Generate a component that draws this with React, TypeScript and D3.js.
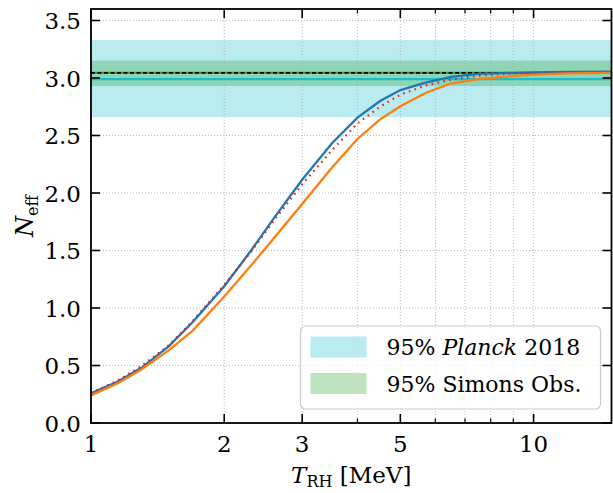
import React from 'react';
import * as d3 from 'd3';

// temperature grid (MeV)
const tRH = [1, 1.15, 1.3, 1.5, 1.7, 2, 2.3, 2.6, 3, 3.5, 4, 4.5, 5, 5.7, 6.5, 7.5, 8.5, 10, 12, 15];
// N_eff curves
const nBlue = [0.258, 0.36, 0.48, 0.668, 0.88, 1.19, 1.5, 1.79, 2.115, 2.43, 2.655, 2.8, 2.895, 2.96, 3.01, 3.035, 3.042, 3.048, 3.052, 3.055];
const nOrange = [0.24, 0.345, 0.465, 0.633, 0.806, 1.1, 1.37, 1.615, 1.905, 2.22, 2.47, 2.64, 2.755, 2.87, 2.952, 2.99, 3.01, 3.03, 3.04, 3.045];
const nRed = [0.26, 0.37, 0.495, 0.675, 0.89, 1.2, 1.49, 1.77, 2.075, 2.37, 2.605, 2.75, 2.855, 2.935, 2.985, 3.02, 3.035, 3.045, 3.05, 3.05];

// bands and reference lines
const planckBand = [2.66, 3.33];
const planckCentral = 2.99;
const simonsBand = [2.93, 3.15];
const smValue = 3.045;

const xMajor = [1, 2, 3, 5, 10];
const xMinor = [4, 6, 7, 8, 9];
const xGrid = [1, 2, 3, 4, 5, 6, 7, 8, 9, 10];
const yTicks = [0, 0.5, 1.0, 1.5, 2.0, 2.5, 3.0, 3.5];

const font = "'DejaVu Serif', 'Liberation Serif', serif";

export default function App() {
  // set the dimensions and margins of the graph
  const margin = { top: 9, right: 1.5, bottom: 70, left: 91 };
  const W = 613, H = 493;
  const width = W - margin.left - margin.right;
  const height = H - margin.top - margin.bottom;

  const x = d3.scaleLog().domain([1, 15]).range([0, width]);
  const y = d3.scaleLinear().domain([0, 3.6]).range([height, 0]);

  const line = d3
    .line<number>()
    .x((d, i) => x(tRH[i]))
    .y((d) => y(d));

  const major = 9, minor = 4.5;

  return (
    <svg width={W} height={H} style={{ position: 'absolute', left: 0, top: 0 }}>
      <rect width={W} height={H} fill="#fff" />
      <g transform={'translate(' + margin.left + ',' + margin.top + ')'}>
        {/* bands */}
        <rect x={0} width={width} y={y(planckBand[1])} height={y(planckBand[0]) - y(planckBand[1])} fill="#17becf" fillOpacity={0.3} />
        <rect x={0} width={width} y={y(simonsBand[1])} height={y(simonsBand[0]) - y(simonsBand[1])} fill="#2ca02c" fillOpacity={0.3} />

        {/* grid */}
        {xGrid.map((t) => (
          <line key={'gx' + t} x1={x(t)} x2={x(t)} y1={0} y2={height} stroke="#b0b0b0" strokeWidth={0.9} strokeDasharray="1,2" />
        ))}
        {yTicks.map((t) => (
          <line key={'gy' + t} x1={0} x2={width} y1={y(t)} y2={y(t)} stroke="#b0b0b0" strokeWidth={0.9} strokeDasharray="1,2" />
        ))}

        {/* reference lines */}
        <line x1={0} x2={width} y1={y(planckCentral)} y2={y(planckCentral)} stroke="#17becf" strokeWidth={2.4} />
        <line x1={0} x2={width} y1={y(smValue)} y2={y(smValue)} stroke="#2ca02c" strokeWidth={2} />
        <line x1={0} x2={width} y1={y(smValue)} y2={y(smValue)} stroke="#000" strokeWidth={1.6} strokeDasharray="4,2.5" />

        {/* curves */}
        <path d={line(nBlue) || ''} fill="none" stroke="#1f77b4" strokeWidth={2.3} />
        <path d={line(nRed) || ''} fill="none" stroke="#d62728" strokeWidth={2.2} strokeDasharray="1.6,4.4" />
        <path d={line(nOrange) || ''} fill="none" stroke="#ff7f0e" strokeWidth={2.3} />

        {/* ticks, all inward */}
        {xMajor.map((t) => (
          <g key={'xt' + t}>
            <line x1={x(t)} x2={x(t)} y1={height} y2={height - major} stroke="#000" strokeWidth={1.6} />
            <line x1={x(t)} x2={x(t)} y1={0} y2={major} stroke="#000" strokeWidth={1.6} />
            <text x={x(t)} y={height + 29} textAnchor="middle" fontSize={23} fontFamily={font}>{t}</text>
          </g>
        ))}
        {xMinor.map((t) => (
          <g key={'xm' + t}>
            <line x1={x(t)} x2={x(t)} y1={height} y2={height - minor} stroke="#000" strokeWidth={1.2} />
            <line x1={x(t)} x2={x(t)} y1={0} y2={minor} stroke="#000" strokeWidth={1.2} />
          </g>
        ))}
        {yTicks.map((t) => (
          <g key={'yt' + t}>
            <line x1={0} x2={major} y1={y(t)} y2={y(t)} stroke="#000" strokeWidth={1.6} />
            <line x1={width} x2={width - major} y1={y(t)} y2={y(t)} stroke="#000" strokeWidth={1.6} />
            <text x={-10} y={y(t) + 8.5} textAnchor="end" fontSize={23} fontFamily={font}>{t.toFixed(1)}</text>
          </g>
        ))}

        {/* frame */}
        <rect x={0} y={0} width={width} height={height} fill="none" stroke="#000" strokeWidth={1.8} />

        {/* legend */}
        <g transform={'translate(' + (width - 311) + ',' + (height - 97) + ')'}>
          <rect x={0} y={0} width={300} height={83} rx={5} fill="#fff" fillOpacity={0.8} stroke="#cccccc" strokeWidth={1.2} />
          <rect x={10} y={10.5} width={56} height={21} fill="#17becf" fillOpacity={0.3} />
          <rect x={10} y={47} width={56} height={21} fill="#2ca02c" fillOpacity={0.3} />
          <text x={86} y={29} fontSize={22} fontFamily={font}>
            95% <tspan fontStyle="italic">Planck</tspan> 2018
          </text>
          <text x={86} y={66} fontSize={22} fontFamily={font}>95% Simons Obs.</text>
        </g>

        {/* axis labels */}
        <text x={width / 2} y={height + 60} textAnchor="middle" fontSize={23} fontFamily={font}>
          <tspan fontStyle="italic">T</tspan>
          <tspan fontSize={16} dy={4}>RH</tspan>
          <tspan dy={-4}> [MeV]</tspan>
        </text>
        <text transform={'translate(' + (33 - margin.left) + ',' + height / 2 + ') rotate(-90)'} textAnchor="middle" fontSize={24} fontFamily={font}>
          <tspan fontStyle="italic">N</tspan>
          <tspan fontSize={16} dy={5}>eff</tspan>
        </text>
      </g>
    </svg>
  );
}
